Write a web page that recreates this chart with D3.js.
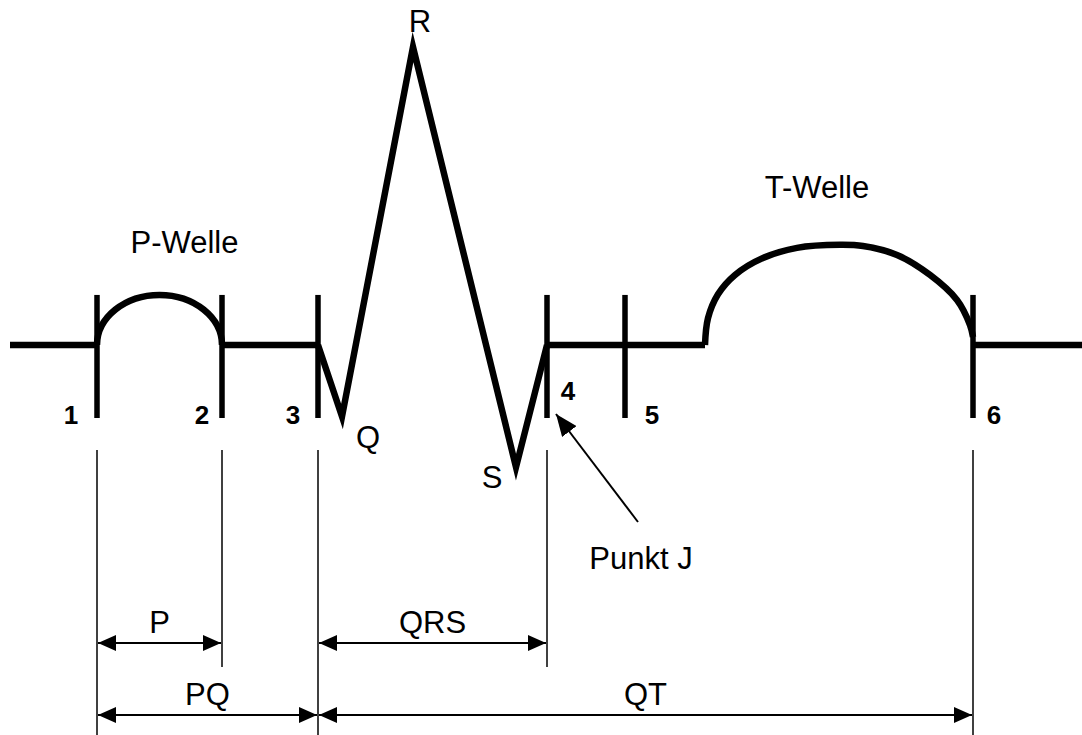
<!DOCTYPE html>
<html>
<head>
<meta charset="utf-8">
<script src="https://cdn.jsdelivr.net/npm/d3@7"></script>
<style>
  html, body { margin: 0; padding: 0; background: #fff; }
  svg { display: block; font-family: 'Liberation Sans', Arial, sans-serif; }
</style>
</head>
<body>
<div id="chart"></div>
<script>
// Marker positions along the time axis (same units as the picture width)
const markerX = [97, 222, 318, 547, 625, 973];
const markerLabels = ['1', '2', '3', '4', '5', '6'];

// Flat isoelectric segments [start, end]
const baselineSegments = [[10, 97], [222, 318], [547, 705], [973, 1082]];

// P wave: start, end, peak amplitude
const pWave = { start: 97, end: 222, peak: 0.168 };

// QRS complex: 3 -> Q -> R -> S -> 4
const qrsTime = [318, 342, 413, 516, 547];
const qrsAmp = [0, -0.24, 1.0, -0.41, 0];
const qrsNames = [null, 'Q', 'R', 'S', null];

// T wave
const tTime = [705, 708, 718, 735, 763, 797, 840, 863, 897, 930, 957, 970, 973];
const tAmp = [0, 0.09, 0.17, 0.235, 0.292, 0.326, 0.336, 0.332, 0.302, 0.235, 0.151, 0.067, 0.027];

// Interval dimensions (marker indexes)
const intervalNames = ['P', 'QRS', 'PQ', 'QT'];
const intervalFrom = [0, 2, 0, 2];
const intervalTo = [1, 3, 2, 5];
const intervalRow = [0, 0, 1, 1];

const width = 1082;
const height = 735;

const svg = d3.select('#chart')
  .append('svg')
  .attr('width', width)
  .attr('height', height);

// Scales
const x = d3.scaleLinear().domain([0, 1082]).range([0, width]);
const y = d3.scaleLinear().domain([0, 1]).range([345, 47]);

const rowY = [643, 715];
const markerTop = 0.168;
const markerBottom = -0.245;
const fontSize = 31;

// Arrowhead markers
const defs = svg.append('defs');
['start', 'end'].forEach((kind) => {
  defs.append('marker')
    .attr('id', 'arrow-' + kind)
    .attr('markerUnits', 'userSpaceOnUse')
    .attr('markerWidth', 18)
    .attr('markerHeight', 16)
    .attr('refX', kind === 'end' ? 18 : 0)
    .attr('refY', 8)
    .attr('orient', 'auto')
    .append('path')
    .attr('d', kind === 'end' ? 'M0,0 L18,8 L0,16 Z' : 'M18,0 L0,8 L18,16 Z')
    .attr('fill', '#000');
});
defs.append('marker')
  .attr('id', 'arrow-j')
  .attr('markerUnits', 'userSpaceOnUse')
  .attr('markerWidth', 22)
  .attr('markerHeight', 18)
  .attr('refX', 22)
  .attr('refY', 9)
  .attr('orient', 'auto')
  .append('path')
  .attr('d', 'M0,0 L22,9 L0,18 Z')
  .attr('fill', '#000');

const wave = svg.append('g')
  .attr('fill', 'none')
  .attr('stroke', '#000')
  .attr('stroke-width', 6.5);

// Baseline
wave.selectAll('.base')
  .data(baselineSegments)
  .enter()
  .append('line')
  .attr('class', 'base')
  .attr('x1', (d) => x(d[0]))
  .attr('x2', (d) => x(d[1]))
  .attr('y1', y(0))
  .attr('y2', y(0));

// P wave as elliptical arc
const rx = (x(pWave.end) - x(pWave.start)) / 2;
const ry = y(0) - y(pWave.peak);
wave.append('path')
  .attr('d', `M${x(pWave.start)},${y(0)} A${rx},${ry} 0 0 1 ${x(pWave.end)},${y(0)}`);

// QRS
const qrsData = qrsTime.map((t, i) => ({ t, a: qrsAmp[i], name: qrsNames[i] }));
const line = d3.line().x((d) => x(d.t)).y((d) => y(d.a));
wave.append('path')
  .datum(qrsData)
  .attr('stroke-linejoin', 'miter')
  .attr('stroke-miterlimit', 20)
  .attr('d', line);

// T wave
const tData = tTime.map((t, i) => ({ t, a: tAmp[i] }));
wave.append('path')
  .datum(tData)
  .attr('d', line.curve(d3.curveCatmullRom));

// Marker bars
wave.selectAll('.marker')
  .data(markerX)
  .enter()
  .append('line')
  .attr('class', 'marker')
  .attr('stroke-width', 5.5)
  .attr('x1', (d) => x(d))
  .attr('x2', (d) => x(d))
  .attr('y1', y(markerTop))
  .attr('y2', y(markerBottom));

// Marker numbers
const numOffset = [-26, -20, -25, 21, 27, 21];
svg.selectAll('.num')
  .data(markerX)
  .enter()
  .append('text')
  .attr('class', 'num')
  .attr('x', (d, i) => x(d) + numOffset[i])
  .attr('y', (d, i) => (i === 3 ? 400 : 424))
  .attr('text-anchor', 'middle')
  .attr('font-weight', 'bold')
  .attr('font-size', 26)
  .text((d, i) => markerLabels[i]);

// QRS point names
const nameOffset = { Q: [26, 31], R: [7, -15], S: [-24, 21] };
svg.selectAll('.qrs-name')
  .data(qrsData.filter((d) => d.name))
  .enter()
  .append('text')
  .attr('x', (d) => x(d.t) + nameOffset[d.name][0])
  .attr('y', (d) => y(d.a) + nameOffset[d.name][1])
  .attr('text-anchor', 'middle')
  .attr('font-size', fontSize)
  .text((d) => d.name);

// Wave titles
svg.append('text')
  .attr('x', (x(pWave.start) + x(pWave.end)) / 2 + 25)
  .attr('y', 253)
  .attr('text-anchor', 'middle')
  .attr('font-size', fontSize)
  .text('P-Welle');

svg.append('text')
  .attr('x', x(tTime[d3.maxIndex(tAmp)]) - 23)
  .attr('y', 198)
  .attr('text-anchor', 'middle')
  .attr('font-size', fontSize)
  .text('T-Welle');

// Punkt J arrow
svg.append('line')
  .attr('x1', 638)
  .attr('y1', 522)
  .attr('x2', x(markerX[3]) + 9)
  .attr('y2', 414)
  .attr('stroke', '#000')
  .attr('stroke-width', 2)
  .attr('marker-end', 'url(#arrow-j)');

svg.append('text')
  .attr('x', 641)
  .attr('y', 569)
  .attr('text-anchor', 'middle')
  .attr('font-size', fontSize)
  .text('Punkt J');

// Dimension extension lines
const usedMarkers = Array.from(new Set(intervalFrom.concat(intervalTo))).sort((a, b) => a - b);
svg.selectAll('.ext')
  .data(usedMarkers)
  .enter()
  .append('line')
  .attr('class', 'ext')
  .attr('x1', (d) => x(markerX[d]))
  .attr('x2', (d) => x(markerX[d]))
  .attr('y1', 450)
  .attr('y2', (d) => {
    const lastRow = d3.max(intervalNames.map((n, i) =>
      (intervalFrom[i] === d || intervalTo[i] === d) ? intervalRow[i] : -1));
    return lastRow === 1 ? height : 667;
  })
  .attr('stroke', '#000')
  .attr('stroke-width', 1.5);

// Dimension arrows
const intervals = intervalNames.map((name, i) => ({
  name,
  x1: x(markerX[intervalFrom[i]]),
  x2: x(markerX[intervalTo[i]]),
  y: rowY[intervalRow[i]],
}));

svg.selectAll('.dim')
  .data(intervals)
  .enter()
  .append('line')
  .attr('class', 'dim')
  .attr('x1', (d) => d.x1 + 1)
  .attr('x2', (d) => d.x2 - 1)
  .attr('y1', (d) => d.y)
  .attr('y2', (d) => d.y)
  .attr('stroke', '#000')
  .attr('stroke-width', 2)
  .attr('marker-start', 'url(#arrow-start)')
  .attr('marker-end', 'url(#arrow-end)');

svg.selectAll('.dim-label')
  .data(intervals)
  .enter()
  .append('text')
  .attr('class', 'dim-label')
  .attr('x', (d) => (d.x1 + d.x2) / 2)
  .attr('y', (d) => d.y - 10)
  .attr('text-anchor', 'middle')
  .attr('font-size', fontSize)
  .text((d) => d.name);
</script>
</body>
</html>
